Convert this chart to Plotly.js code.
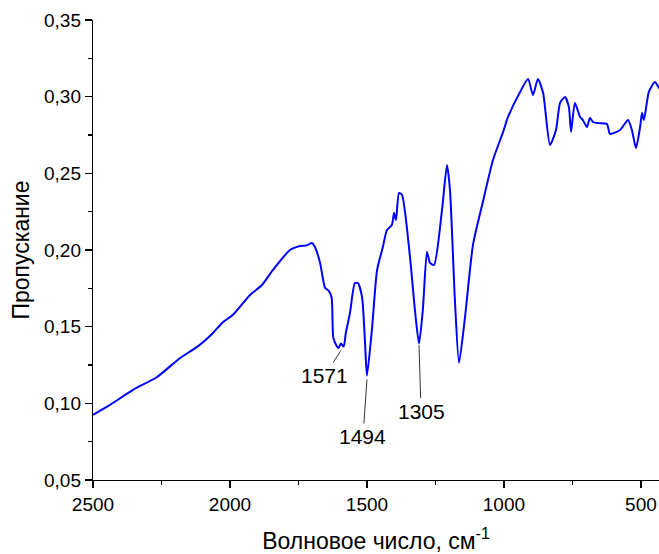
<!DOCTYPE html>
<html>
<head>
<meta charset="utf-8">
<script src="https://cdn.plot.ly/plotly-3.0.1.min.js"></script>
<style>html,body{margin:0;padding:0;background:#fff;}</style>
</head>
<body>
<div id="chart" style="width:659px;height:554px;"></div>
<script>
const wavenumber = [2500, 2438, 2354, 2266, 2182, 2120, 2062, 2025, 1989, 1927, 1883, 1843, 1781, 1744, 1720, 1701, 1690, 1671, 1653, 1640, 1629, 1623, 1611, 1604, 1595, 1585, 1577, 1562, 1544, 1533, 1518, 1507, 1500, 1482, 1463, 1442, 1427, 1409, 1401, 1394, 1383, 1372, 1343, 1325, 1310, 1296, 1281, 1270, 1255, 1226, 1208, 1197, 1179, 1164, 1142, 1113, 1076, 1040, 1003, 985, 941, 912, 894, 876, 857, 832, 810, 795, 777, 763, 755, 741, 722, 712, 697, 686, 675, 660, 624, 613, 576, 547, 533, 518, 503, 496, 489, 471, 449, 434, 420];
const transmittance = [0.0925, 0.099, 0.1088, 0.1172, 0.1296, 0.1368, 0.1459, 0.1531, 0.1577, 0.1707, 0.1772, 0.187, 0.200, 0.2026, 0.203, 0.2046, 0.202, 0.1916, 0.1753, 0.1735, 0.169, 0.143, 0.1375, 0.136, 0.139, 0.137, 0.146, 0.159, 0.1785, 0.1785, 0.1694, 0.1394, 0.118, 0.1479, 0.187, 0.202, 0.2131, 0.2163, 0.2242, 0.2196, 0.2372, 0.2359, 0.1955, 0.1609, 0.139, 0.161, 0.1987, 0.1916, 0.1903, 0.2261, 0.2555, 0.2392, 0.1674, 0.1264, 0.1564, 0.2033, 0.232, 0.2587, 0.277, 0.2868, 0.3031, 0.3115, 0.3011, 0.3115, 0.3024, 0.2685, 0.2783, 0.2959, 0.2998, 0.2933, 0.277, 0.2959, 0.2868, 0.2848, 0.2802, 0.2861, 0.2835, 0.2828, 0.2822, 0.2757, 0.2783, 0.2848, 0.2783, 0.2665, 0.2802, 0.2894, 0.2848, 0.3031, 0.3096, 0.3057, 0.302];

const peakLabels = ["1571", "1494", "1305"];
const peakX = [1595, 1500, 1310];
const peakY = [0.1345, 0.1155, 0.138];

const font = "Liberation Sans, Arial, sans-serif";

const annOffsets = [[-16, 25], [-4, 57], [2, 66]];
const annotations = peakLabels.map((t, i) => ({
  x: peakX[i], y: peakY[i], xref: 'x', yref: 'y',
  text: t, showarrow: true, arrowhead: 0, arrowwidth: 0.8, arrowcolor: '#000',
  ax: annOffsets[i][0], ay: annOffsets[i][1],
  font: {family: font, size: 21, color: '#000'}
}));

const trace = {
  x: wavenumber, y: transmittance, type: 'scatter', mode: 'lines',
  line: {color: '#0000ff', width: 2, shape: 'spline', smoothing: 0.6},
  hoverinfo: 'skip'
};

const layout = {
  width: 659, height: 554,
  margin: {l: 93, r: 0, t: 20, b: 74},
  paper_bgcolor: '#fff', plot_bgcolor: '#fff',
  separators: ', ',
  showlegend: false,
  font: {family: font, size: 19, color: '#000'},
  xaxis: {
    range: [2500, 434], tick0: 0, dtick: 500,
    showline: true, linecolor: '#000', linewidth: 1.2, mirror: false,
    ticks: 'outside', ticklen: 7, tickwidth: 1.2, tickcolor: '#000',
    minor: {dtick: 250, ticks: 'outside', ticklen: 4, tickwidth: 1.2, tickcolor: '#000'},
    showgrid: false, zeroline: false,
    tickfont: {family: font, size: 19, color: '#000'},
    title: {text: 'Волновое число, см<sup>-1</sup>', font: {family: font, size: 23, color: '#000'}, standoff: 18}
  },
  yaxis: {
    range: [0.05, 0.35], tick0: 0.05, dtick: 0.05, tickformat: '.2f',
    showline: true, linecolor: '#000', linewidth: 1.2, mirror: false,
    ticks: 'outside', ticklen: 7, tickwidth: 1.2, tickcolor: '#000',
    minor: {dtick: 0.025, ticks: 'outside', ticklen: 4, tickwidth: 1.2, tickcolor: '#000'},
    showgrid: false, zeroline: false,
    tickfont: {family: font, size: 19, color: '#000'},
    title: {text: 'Пропускание', font: {family: font, size: 23, color: '#000'}, standoff: 8}
  },
  annotations: annotations
};

Plotly.newPlot('chart', [trace], layout, {displayModeBar: false, staticPlot: true});
</script>
</body>
</html>
